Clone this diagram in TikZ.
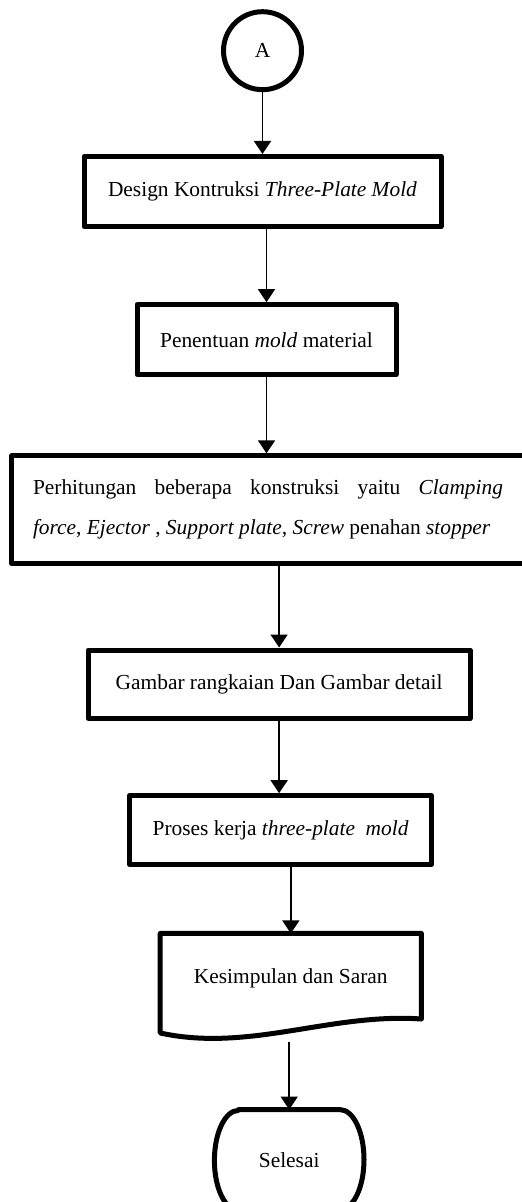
\documentclass[tikz,border=0pt]{standalone}
\usepackage{fontspec}
\setmainfont{Liberation Serif}
\usetikzlibrary{arrows.meta}
\tikzset{bd/.style={draw=black, line width=2.5pt, line join=round},
  box/.style={bd, rectangle, inner sep=0pt, font=\fontsize{10.7}{13}\selectfont},
  plain/.style={inner sep=0pt, font=\fontsize{10.7}{13}\selectfont},
  arr/.style={line width=0.8pt, -{Triangle[width=8.5pt,length=6.5pt]}}}

\begin{document}
\begin{tikzpicture} [x=0.5pt, y=-0.5pt]
%%position
\useasboundingbox (0,0) rectangle (522,1202);
%%connector
\node[box, circle, minimum size=39pt] (conA) at (262.5,50.7) {A};
%%design
\node[box, minimum width=178.5pt, minimum height=35pt] (design) at (262.5,191.5)
  {Design Kontruksi \textit{Three-Plate Mold}};
%%material
\node[box, minimum width=129.5pt, minimum height=35pt] (material) at (266.5,339.7)
  {Penentuan \textit{mold} material};
%%calculation
\node[box, minimum width=259pt, minimum height=53.75pt] (calc) at (270.8,509.6) {};
\node[plain, text width=235pt, align=justify, font=\fontsize{10.7}{20}\selectfont]
  (calctext) at (268,509) {Perhitungan beberapa konstruksi yaitu \textit{Clamping}\linebreak
  \textit{force}, \textit{Ejector} , \textit{Support plate, Screw} penahan \textit{stopper}};
%%drawing
\node[box, minimum width=191pt, minimum height=34.2pt] (drawing) at (279.1,684.2)
  {Gambar rangkaian Dan Gambar detail};
%%process
\node[box, minimum width=151pt, minimum height=34.3pt] (process) at (280.6,830)
  {Proses kerja \textit{three-plate\ \ mold}};
%%document
\node[plain, minimum width=130.2pt, minimum height=42.4pt] (doc) at (290.8,976.2) {};
\node[plain] (doctext) at (290.8,978) {Kesimpulan dan Saran};
\draw[bd] (doc.north west) -- (doc.north east) -- (doc.south east)
  .. controls +(-45.5pt,3.2pt) and ([xshift=44.6pt,yshift=-16.7pt]doc.south west)
  .. ([yshift=-7pt]doc.south west) -- cycle;
%%end
\node[plain, minimum width=74.4pt, minimum height=50pt] (finish) at (289.2,1160) {Selesai};
\draw[bd] ([xshift=12pt]finish.north west) -- ([xshift=-12pt]finish.north east)
  arc[start angle=90, end angle=-90, x radius=12pt, y radius=25pt]
  -- ([xshift=12pt]finish.south west)
  arc[start angle=270, end angle=90, x radius=12pt, y radius=25pt] -- cycle;
%%arrows
\draw[arr] (conA) -- (design);
\draw[arr] (material.north |- design.south) -- (material.north);
\draw[arr] (material.south) -- (material.south |- calc.north);
\draw[arr] (drawing.north |- calc.south) -- (drawing.north);
\draw[arr] (drawing.south) -- (drawing.south |- process.north);
\draw[arr] (doc.north |- process.south) -- (doc.north);
\draw[arr] ([yshift=-11.7pt]finish.north |- doc.south) -- (finish.north);
\end{tikzpicture}
\end{document}
